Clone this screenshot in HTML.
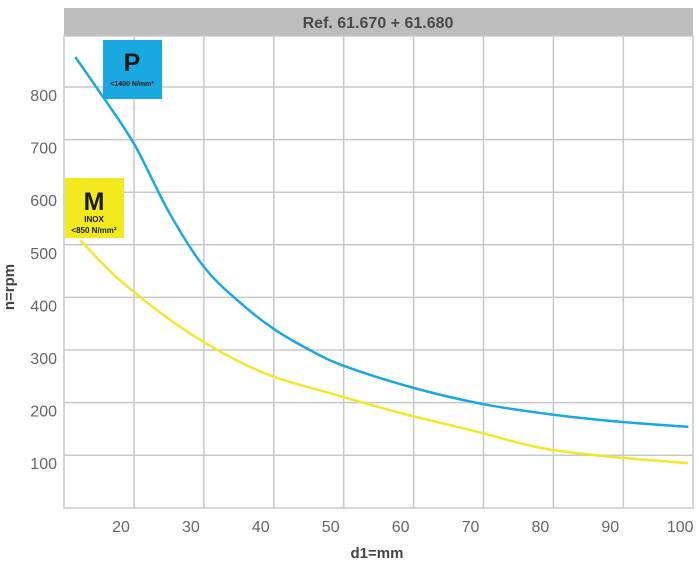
<!DOCTYPE html>
<html><head><meta charset="utf-8"><style>
body{margin:0;background:#fff;width:699px;height:566px;overflow:hidden}
svg{display:block;font-family:"Liberation Sans",sans-serif}
</style></head><body>
<svg id="chart" width="699" height="566">
<rect x="64" y="8" width="629" height="28" fill="#bdbdbd"/>
<text x="378" y="28" text-anchor="middle" font-size="16" font-weight="bold" fill="#4a4a4a">Ref. 61.670 + 61.680</text>
<rect x="64" y="36" width="629" height="472" fill="#fff" stroke="#c8c8c8" stroke-width="1.5"/>
<g id="grid"></g><g id="ticks"></g><g id="lines"></g>
<g>
<rect x="103" y="40" width="59" height="59" fill="#1aa8e0"/>
<text x="132" y="71" text-anchor="middle" font-size="25" font-weight="bold" fill="#1a1a1a">P</text>
<text x="132" y="86" text-anchor="middle" font-size="7" font-weight="bold" fill="#1a1a1a">&lt;1400 N/mm²</text>
</g>
<g>
<rect x="65" y="178" width="59" height="60" fill="#f2ea1f"/>
<text x="94" y="210" text-anchor="middle" font-size="25" font-weight="bold" fill="#1a1a1a">M</text>
<text x="94" y="222" text-anchor="middle" font-size="8" font-weight="bold" fill="#1a1a1a">INOX</text>
<text x="94" y="233" text-anchor="middle" font-size="8" font-weight="bold" fill="#1a1a1a">&lt;850 N/mm²</text>
</g>
<text x="0" y="0" transform="translate(14,287) rotate(-90)" text-anchor="middle" font-size="15" font-weight="bold" fill="#444">n=rpm</text>
<text x="377" y="558" text-anchor="middle" font-size="15" font-weight="bold" fill="#444">d1=mm</text>
</svg>
<script>
const xTicks=[20,30,40,50,60,70,80,90,100];
const yTicks=[100,200,300,400,500,600,700,800];
const pD=[11.6,15,20,25,30,35,40,45,50,60,70,80,90,99.3];
const pV=[857,792,692,562,458,392,340,301,270,228,197,177,163,154];
const mD=[12.3,18.3,28.3,38.3,48,58.2,68.1,78.2,88.2,99.3];
const mV=[509,429,329,258,218,180,148,114,97,85];
const NS='http://www.w3.org/2000/svg';
const X=d=>134+(d-20)*6.99;
const Y=v=>87+(800-v)*0.526;
const grid=document.getElementById('grid'),ticks=document.getElementById('ticks'),lines=document.getElementById('lines');
function mk(t,a,p){const e=document.createElementNS(NS,t);for(const k in a)e.setAttribute(k,a[k]);p.appendChild(e);return e;}
xTicks.forEach(d=>{
 if(d<100){const l=mk('line',{x1:X(d),x2:X(d),y1:36,y2:508,stroke:'#c8c8c8','stroke-width':1.5},grid);
 
 }
 const t=mk('text',{x:X(d)-13,y:532,'text-anchor':'middle','font-size':16,fill:'#666'},ticks);t.textContent=d;
 
 
});
yTicks.forEach(v=>{
 const l=mk('line',{x1:64,x2:693,y1:Y(v),y2:Y(v),stroke:'#c8c8c8','stroke-width':1.5},grid);
 
 
 const t=mk('text',{x:57,y:Y(v)+14,'text-anchor':'end','font-size':16,fill:'#666'},ticks);t.textContent=v;
 
 
});
function path(ds,vs){const p=ds.map((d,i)=>[X(d),Y(vs[i])]);let s='M'+p[0][0]+','+p[0][1];
 for(let i=0;i<p.length-1;i++){const a=p[i-1]||p[i],b=p[i],c=p[i+1],e=p[i+2]||c;
 s+=' C'+(b[0]+(c[0]-a[0])/6)+','+(b[1]+(c[1]-a[1])/6)+' '+(c[0]-(e[0]-b[0])/6)+','+(c[1]-(e[1]-b[1])/6)+' '+c[0]+','+c[1];}return s;}
const m=mk('path',{d:path(mD,mV),fill:'none',stroke:'#f0e82a','stroke-width':2.5},lines);


const p=mk('path',{d:path(pD,pV),fill:'none',stroke:'#1aa8e0','stroke-width':2.5},lines);


</script>
</body></html>
